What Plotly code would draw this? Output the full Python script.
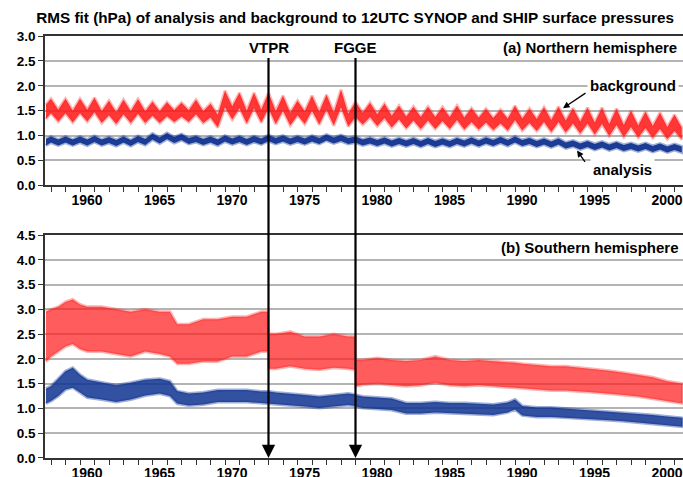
import plotly.graph_objects as go

FONT = "Liberation Sans, Arial, Helvetica, sans-serif"

# ---------------- data ----------------
# Northern hemisphere: envelope of the daily scatter at each winter (Jan, year.0)
# and summer (Jul, year.5); first point is autumn 1957
NH_START = 1957.65
NH_YEARS = list(range(1958, 2002))

NH_BG_START = (1.62, 1.33)  # (upper, lower)
NH_BG_WIN_UP = [1.74, 1.74, 1.74, 1.76, 1.70, 1.72, 1.73, 1.68, 1.67, 1.66,
                1.72, 1.64, 1.90, 1.86, 1.86, 1.86, 1.80, 1.70, 1.80, 1.82,
                1.92, 1.68, 1.66, 1.64, 1.60, 1.58, 1.58, 1.57, 1.60, 1.55,
                1.54, 1.52, 1.60, 1.54, 1.57, 1.58, 1.55, 1.56, 1.56, 1.54,
                1.50, 1.48, 1.46, 1.42]
NH_BG_WIN_LO = [1.45, 1.45, 1.45, 1.47, 1.41, 1.43, 1.44, 1.40, 1.39, 1.38,
                1.43, 1.36, 1.57, 1.55, 1.55, 1.55, 1.50, 1.41, 1.50, 1.52,
                1.57, 1.37, 1.37, 1.35, 1.32, 1.30, 1.30, 1.29, 1.31, 1.27,
                1.26, 1.24, 1.31, 1.25, 1.27, 1.27, 1.24, 1.24, 1.23, 1.21,
                1.17, 1.15, 1.13, 1.09]
NH_BG_SUM_UP = [1.52, 1.50, 1.52, 1.49, 1.47, 1.49, 1.49, 1.49, 1.51, 1.51,
                1.49, 1.42, 1.59, 1.50, 1.52, 1.49, 1.46, 1.49, 1.48, 1.46,
                1.44, 1.46, 1.43, 1.40, 1.38, 1.37, 1.37, 1.37, 1.36, 1.36,
                1.35, 1.34, 1.34, 1.33, 1.31, 1.30, 1.28, 1.26, 1.23, 1.21,
                1.20, 1.19, 1.17, 1.16]
NH_BG_SUM_LO = [1.28, 1.26, 1.28, 1.25, 1.23, 1.25, 1.25, 1.25, 1.27, 1.27,
                1.25, 1.16, 1.32, 1.24, 1.26, 1.23, 1.20, 1.23, 1.22, 1.20,
                1.18, 1.22, 1.19, 1.16, 1.14, 1.13, 1.13, 1.13, 1.12, 1.12,
                1.11, 1.10, 1.10, 1.09, 1.07, 1.06, 1.04, 1.02, 0.99, 0.97,
                0.96, 0.95, 0.93, 0.92]

NH_AN_START = (0.93, 0.80)
NH_AN_WIN_UP = [0.98, 0.98, 0.98, 0.99, 0.97, 0.98, 0.99, 1.04, 1.05, 1.03,
                0.99, 0.98, 1.00, 0.99, 0.99, 1.01, 1.00, 0.99, 1.00, 1.02,
                1.01, 0.98, 0.96, 0.96, 0.95, 0.95, 0.95, 0.94, 0.95, 0.96,
                0.96, 0.97, 0.98, 0.95, 0.94, 0.94, 0.90, 0.89, 0.88, 0.87,
                0.85, 0.85, 0.84, 0.83]
NH_AN_WIN_LO = [0.86, 0.86, 0.86, 0.87, 0.85, 0.86, 0.87, 0.92, 0.93, 0.91,
                0.87, 0.86, 0.88, 0.87, 0.87, 0.89, 0.88, 0.87, 0.88, 0.90,
                0.89, 0.86, 0.84, 0.84, 0.83, 0.83, 0.83, 0.82, 0.83, 0.84,
                0.84, 0.85, 0.86, 0.83, 0.82, 0.82, 0.78, 0.77, 0.76, 0.75,
                0.73, 0.73, 0.72, 0.71]
NH_AN_SUM_UP = [0.92, 0.92, 0.92, 0.92, 0.91, 0.91, 0.93, 0.96, 0.97, 0.95,
                0.93, 0.92, 0.94, 0.93, 0.94, 0.95, 0.94, 0.94, 0.95, 0.96,
                0.95, 0.92, 0.91, 0.90, 0.90, 0.89, 0.89, 0.89, 0.90, 0.90,
                0.91, 0.91, 0.91, 0.89, 0.88, 0.86, 0.84, 0.83, 0.82, 0.81,
                0.80, 0.79, 0.78, 0.78]
NH_AN_SUM_LO = [0.80, 0.80, 0.80, 0.80, 0.79, 0.79, 0.81, 0.84, 0.85, 0.83,
                0.81, 0.80, 0.82, 0.81, 0.82, 0.83, 0.82, 0.82, 0.83, 0.84,
                0.83, 0.80, 0.79, 0.78, 0.78, 0.77, 0.77, 0.77, 0.78, 0.78,
                0.79, 0.79, 0.79, 0.77, 0.76, 0.74, 0.72, 0.71, 0.70, 0.69,
                0.68, 0.67, 0.66, 0.66]

# Southern hemisphere: envelope of the daily scatter
SH_TIME = [1957.65, 1958.0, 1958.5, 1959.0, 1959.5, 1960.0, 1960.5, 1961.5,
           1962.5, 1963.5, 1964.5, 1965.5, 1966.2, 1966.7, 1967.5, 1968.5,
           1969.5, 1970.5, 1971.5, 1972.5, 1972.98, 1973.02, 1973.5, 1974.5,
           1975.5, 1976.5, 1977.5, 1978.5, 1978.98, 1979.02, 1979.5, 1980.5,
           1981.5, 1982.5, 1983.5, 1984.5, 1985.5, 1986.5, 1987.5, 1988.5,
           1989.5, 1990.0, 1990.5, 1991.5, 1992.5, 1993.5, 1994.5, 1995.5,
           1996.5, 1997.5, 1998.5, 1999.5, 2000.5, 2001.55]
SH_BG_UP = [2.95, 3.00, 3.05, 3.15, 3.20, 3.10, 3.05, 3.05,
            3.00, 2.95, 3.00, 2.95, 2.95, 2.70, 2.70, 2.80,
            2.80, 2.85, 2.85, 2.95, 2.95, 2.50, 2.50, 2.55,
            2.45, 2.45, 2.50, 2.45, 2.45, 1.98, 1.98, 2.02,
            1.98, 1.96, 1.98, 2.05, 1.98, 1.96, 1.98, 1.96,
            1.93, 1.92, 1.90, 1.88, 1.85, 1.85, 1.82, 1.80,
            1.76, 1.72, 1.68, 1.63, 1.55, 1.50]
SH_BG_LO = [1.95, 2.05, 2.15, 2.25, 2.30, 2.20, 2.15, 2.15,
            2.10, 2.05, 2.15, 2.10, 2.05, 1.90, 1.90, 1.95,
            1.95, 2.05, 2.05, 2.15, 2.15, 1.80, 1.80, 1.85,
            1.80, 1.78, 1.82, 1.80, 1.78, 1.45, 1.48, 1.50,
            1.47, 1.45, 1.47, 1.52, 1.47, 1.45, 1.47, 1.45,
            1.43, 1.42, 1.40, 1.38, 1.36, 1.36, 1.34, 1.32,
            1.30, 1.27, 1.24, 1.20, 1.15, 1.10]
SH_AN_UP = [1.40, 1.45, 1.60, 1.75, 1.82, 1.68, 1.58, 1.52,
            1.47, 1.52, 1.58, 1.60, 1.55, 1.35, 1.30, 1.32,
            1.37, 1.37, 1.37, 1.34, 1.34, 1.34, 1.32, 1.30,
            1.27, 1.24, 1.27, 1.30, 1.28, 1.27, 1.24, 1.22,
            1.20, 1.11, 1.11, 1.13, 1.11, 1.11, 1.09, 1.08,
            1.12, 1.18, 1.05, 1.02, 1.02, 1.00, 0.98, 0.96,
            0.94, 0.92, 0.89, 0.87, 0.84, 0.81]
SH_AN_LO = [1.10, 1.15, 1.25, 1.38, 1.42, 1.32, 1.22, 1.18,
            1.13, 1.18, 1.26, 1.30, 1.25, 1.10, 1.06, 1.08,
            1.13, 1.13, 1.13, 1.10, 1.10, 1.10, 1.08, 1.06,
            1.04, 1.01, 1.04, 1.07, 1.05, 1.04, 1.01, 0.99,
            0.97, 0.90, 0.90, 0.92, 0.90, 0.90, 0.88, 0.87,
            0.92, 0.98, 0.86, 0.83, 0.83, 0.81, 0.79, 0.78,
            0.76, 0.74, 0.71, 0.69, 0.66, 0.63]

TICK_YEARS = list(range(1958, 2002))
TICK_TEXT = [str(y) if y % 5 == 0 else "" for y in TICK_YEARS]
EVENTS = [(1973.0, "VTPR"), (1979.0, "FGGE")]

RED = "rgba(255,20,20,0.85)"
RED_SH = "rgba(255,30,30,0.72)"
RED_EDGE = "rgba(255,40,40,0.35)"
BLUE = "rgba(10,45,140,0.92)"
BLUE_SH = "rgba(15,50,145,0.85)"
BLUE_EDGE = "rgba(20,55,150,0.4)"


def nh_series(start, win_up, win_lo, sum_up, sum_lo):
    xs, up, lo = [NH_START], [start[0]], [start[1]]
    for i, yr in enumerate(NH_YEARS):
        xs += [yr + 0.0, yr + 0.5]
        up += [win_up[i], sum_up[i]]
        lo += [win_lo[i], sum_lo[i]]
    return xs, up, lo


fig = go.Figure()


def band(xs, up, lo, color, edge, xa, ya):
    fig.add_trace(go.Scatter(
        x=list(xs) + list(xs)[::-1], y=list(up) + list(lo)[::-1],
        fill="toself", fillcolor=color, mode="lines",
        line=dict(width=3, color=edge),
        xaxis=xa, yaxis=ya, hoverinfo="skip", showlegend=False))


band(*nh_series(NH_BG_START, NH_BG_WIN_UP, NH_BG_WIN_LO, NH_BG_SUM_UP, NH_BG_SUM_LO), RED, RED_EDGE, "x", "y")
band(*nh_series(NH_AN_START, NH_AN_WIN_UP, NH_AN_WIN_LO, NH_AN_SUM_UP, NH_AN_SUM_LO), BLUE, BLUE_EDGE, "x", "y")
band(SH_TIME, SH_BG_UP, SH_BG_LO, RED_SH, RED_EDGE, "x2", "y2")
band(SH_TIME, SH_AN_UP, SH_AN_LO, BLUE_SH, BLUE_EDGE, "x2", "y2")

XR = [1957.586, 2001.586]
ytickfont = dict(family=FONT, size=13.5, color="black", weight="bold")
xtickfont = dict(family=FONT, size=14, color="black", weight="bold")
xcommon = dict(range=XR, tickmode="array", tickvals=TICK_YEARS, ticktext=TICK_TEXT,
               ticklabelshift=7, ticklabelstandoff=-4, ticks="outside", ticklen=5,
               tickwidth=1.3, tickcolor="#333", showline=True, linecolor="#333",
               linewidth=1.5, mirror=True, showgrid=False, zeroline=False,
               tickfont=xtickfont, automargin=False)
ycommon = dict(dtick=0.5, tick0=0, tickformat=".1f", ticks="outside", ticklen=5,
               tickwidth=1.3, tickcolor="#333", showline=True, linecolor="#333",
               linewidth=1.5, showgrid=True, gridcolor="#b4b4b4", gridwidth=1.6,
               zeroline=False, tickfont=ytickfont, automargin=False)

fig.update_layout(
    width=683, height=477,
    margin=dict(l=45, r=0, t=36, b=19),
    paper_bgcolor="white", plot_bgcolor="white",
    font=dict(family=FONT, color="black"),
    xaxis=dict(domain=[0, 1], anchor="y", **xcommon),
    yaxis=dict(domain=[0.6462, 1], anchor="x", range=[0, 3.0], **ycommon),
    xaxis2=dict(domain=[0, 1], anchor="y2", **xcommon),
    yaxis2=dict(domain=[0, 0.5284], anchor="x2", range=[0, 4.5], **ycommon),
    title=dict(text="RMS fit (hPa) of analysis and background to 12UTC SYNOP and SHIP surface pressures",
               x=0.52, xanchor="center", y=0.964, yanchor="middle",
               font=dict(family=FONT, size=15.3, color="black", weight="bold")),
)

lab = dict(family=FONT, size=15, color="black", weight="bold")
ann = [
    dict(text="(a) Northern hemisphere", xref="paper", yref="paper", x=0.994, y=0.9716,
         xanchor="right", yanchor="middle", showarrow=False, font=lab),
    dict(text="(b) Southern hemisphere", xref="paper", yref="paper", x=0.997, y=0.4993,
         xanchor="right", yanchor="middle", showarrow=False, font=lab),
    dict(text="background", xref="paper", yref="paper", x=0.993, y=(458 - 85) / 422,
         xanchor="right", yanchor="middle", showarrow=False, font=lab,
         bgcolor="white", borderpad=2),
    dict(text="analysis", xref="paper", yref="paper", x=(590 - 45) / 638, y=(458 - 169) / 422,
         xanchor="left", yanchor="middle", showarrow=False, font=lab,
         bgcolor="white", borderpad=2),
    # pointer arrows
    dict(text="", x=1993.31, y=1.55, xref="x", yref="y", ax=24, ay=-16,
         showarrow=True, arrowhead=2, arrowsize=1, arrowwidth=1.3, arrowcolor="black", standoff=0),
    dict(text="", x=1994.28, y=0.70, xref="x", yref="y", ax=9, ay=13,
         showarrow=True, arrowhead=2, arrowsize=1, arrowwidth=1.3, arrowcolor="black", standoff=0),
]
for yr, name in EVENTS:
    ann.append(dict(text=name, x=yr, y=0, xref="x2", yref="y2", ax=0, ay=-410,
                    showarrow=True, arrowhead=2, arrowsize=1.2, arrowwidth=2.2,
                    arrowcolor="black", standoff=0, font=lab))
fig.update_layout(annotations=ann)

fig.write_html("out.html", config={"displayModeBar": False},
               post_script="document.body.style.margin='0px';")
